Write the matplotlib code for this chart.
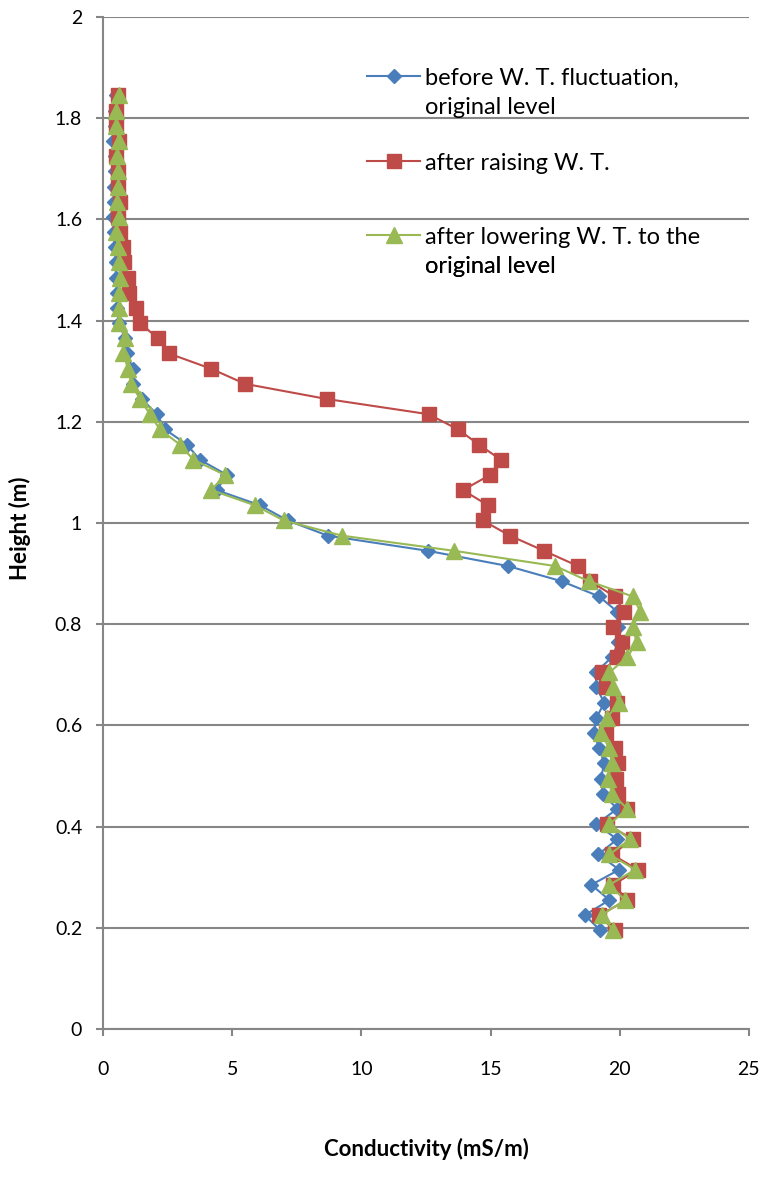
import matplotlib
matplotlib.use("Agg")
import matplotlib.pyplot as plt
from matplotlib.lines import Line2D

plt.rcParams['font.family'] = ['Lato', 'DejaVu Sans']

heights = [0.195, 0.225, 0.255, 0.285, 0.315, 0.345, 0.375, 0.405, 0.435, 0.465,
           0.495, 0.525, 0.555, 0.585, 0.615, 0.645, 0.675, 0.705, 0.735, 0.765,
           0.795, 0.825, 0.855, 0.885, 0.915, 0.945, 0.975, 1.005, 1.035, 1.065,
           1.095, 1.125, 1.155, 1.185, 1.215, 1.245, 1.275, 1.305, 1.335, 1.365,
           1.395, 1.425, 1.455, 1.485, 1.515, 1.545, 1.575, 1.605, 1.635, 1.665,
           1.695, 1.725, 1.755, 1.785, 1.815, 1.845]

before = [19.25, 18.65, 19.6, 18.9, 19.98, 19.17, 19.9, 19.1, 19.9, 19.35,
          19.27, 19.4, 19.2, 19.0, 19.1, 19.4, 19.1, 19.07, 19.7, 19.95,
          19.93, 19.9, 19.2, 17.75, 15.67, 12.58, 8.7, 7.15, 6.08, 4.4,
          4.8, 3.75, 3.25, 2.4, 2.09, 1.5, 1.16, 1.16, 0.92, 0.85,
          0.62, 0.55, 0.55, 0.5, 0.5, 0.45, 0.42, 0.4, 0.42, 0.42,
          0.45, 0.45, 0.4, 0.45, 0.45, 0.5]

raising = [19.8, 19.2, 20.3, 19.75, 20.7, 19.7, 20.5, 19.5, 20.3, 19.93,
           19.85, 19.93, 19.8, 19.47, 19.7, 19.9, 19.47, 19.3, 19.9, 20.1,
           19.75, 20.17, 19.8, 18.85, 18.38, 17.07, 15.75, 14.7, 14.9, 13.93,
           14.98, 15.4, 14.55, 13.74, 12.6, 8.67, 5.5, 4.18, 2.55, 2.13,
           1.43, 1.28, 0.99, 0.97, 0.8, 0.76, 0.65, 0.6, 0.65, 0.6,
           0.58, 0.5, 0.62, 0.5, 0.5, 0.58]

lowering = [19.75, 19.3, 20.2, 19.6, 20.6, 19.6, 20.4, 19.6, 20.3, 19.7,
            19.55, 19.7, 19.6, 19.27, 19.5, 19.97, 19.75, 19.6, 20.3, 20.65,
            20.5, 20.8, 20.5, 18.8, 17.5, 13.6, 9.25, 7.0, 5.88, 4.2,
            4.72, 3.5, 2.98, 2.2, 1.82, 1.43, 1.1, 0.97, 0.79, 0.85,
            0.63, 0.63, 0.63, 0.66, 0.62, 0.58, 0.5, 0.62, 0.55, 0.58,
            0.58, 0.53, 0.62, 0.5, 0.5, 0.62]

label_lines = [["before W. T. fluctuation,", "original level"],
               ["after raising W. T."],
               ["after lowering W. T. to the", "original level"]]
x_ticks = [0, 5, 10, 15, 20, 25]
y_ticks = [0, 0.2, 0.4, 0.6, 0.8, 1.0, 1.2, 1.4, 1.6, 1.8, 2.0]
y_tick_labels = ["0", "0.2", "0.4", "0.6", "0.8", "1", "1.2", "1.4", "1.6", "1.8", "2"]

blue = "#4A7EBB"
red = "#BE4B48"
green = "#98B954"
grid_c = "#868686"

fig = plt.figure(figsize=(7.65, 11.88), dpi=100)
ax = fig.add_axes([0.1346, 0.1338, 0.8444, 0.8519])

l1, = ax.plot(before, heights, color=blue, lw=1.5, marker='D', ms=7,
              mec=blue, mfc=blue, zorder=3)
l2, = ax.plot(raising, heights, color=red, lw=1.5, marker='s', ms=10,
              mec=red, mfc=red, zorder=4)
l3, = ax.plot(lowering, heights, color=green, lw=1.5, marker='^', ms=11,
              mec=green, mfc=green, zorder=5)

ax.set_xlim(0, 25)
ax.set_ylim(0, 2)
ax.set_xticks(x_ticks)
ax.set_xticklabels([str(v) for v in x_ticks])
ax.set_yticks(y_ticks)
ax.set_yticklabels(y_tick_labels)
ax.yaxis.grid(True, color=grid_c, lw=1.5)
ax.set_axisbelow(True)
for s in ['top', 'right']:
    ax.spines[s].set_visible(False)
for s in ['left', 'bottom']:
    ax.spines[s].set_color(grid_c)
    ax.spines[s].set_linewidth(1.5)
ax.tick_params(axis='y', length=5, width=1.5, color=grid_c, pad=10, labelsize=14)
ax.tick_params(axis='x', length=5, width=1.5, color=grid_c, pad=18, labelsize=14)

ax.set_ylabel("Height (m)", fontsize=16, fontweight='bold')
ax.yaxis.set_label_coords(-0.112, 0.495)
ax.set_xlabel("Conductivity (mS/m)", fontsize=16, fontweight='bold')
ax.xaxis.set_label_coords(0.5, -0.108)

# legend: one row per text line (Excel style, marker on first line)
rows = [(l1, label_lines[0][0], 0.9397), (None, label_lines[0][1], 0.9101),
        (l2, label_lines[1][0], 0.8557),
        (l3, label_lines[2][0], 0.7826), (None, label_lines[2][1], 0.7530)]
for handle, text, yy in rows:
    if handle is None:
        handle = Line2D([], [], color='none', marker=None)
    leg = ax.legend([handle], [text], loc='center left', bbox_to_anchor=(0.4087, yy),
                    frameon=False, fontsize=17, handlelength=2.25, handletextpad=0.2,
                    borderaxespad=0, borderpad=0)
    ax.add_artist(leg)

fig.savefig("out.png", dpi=100)
